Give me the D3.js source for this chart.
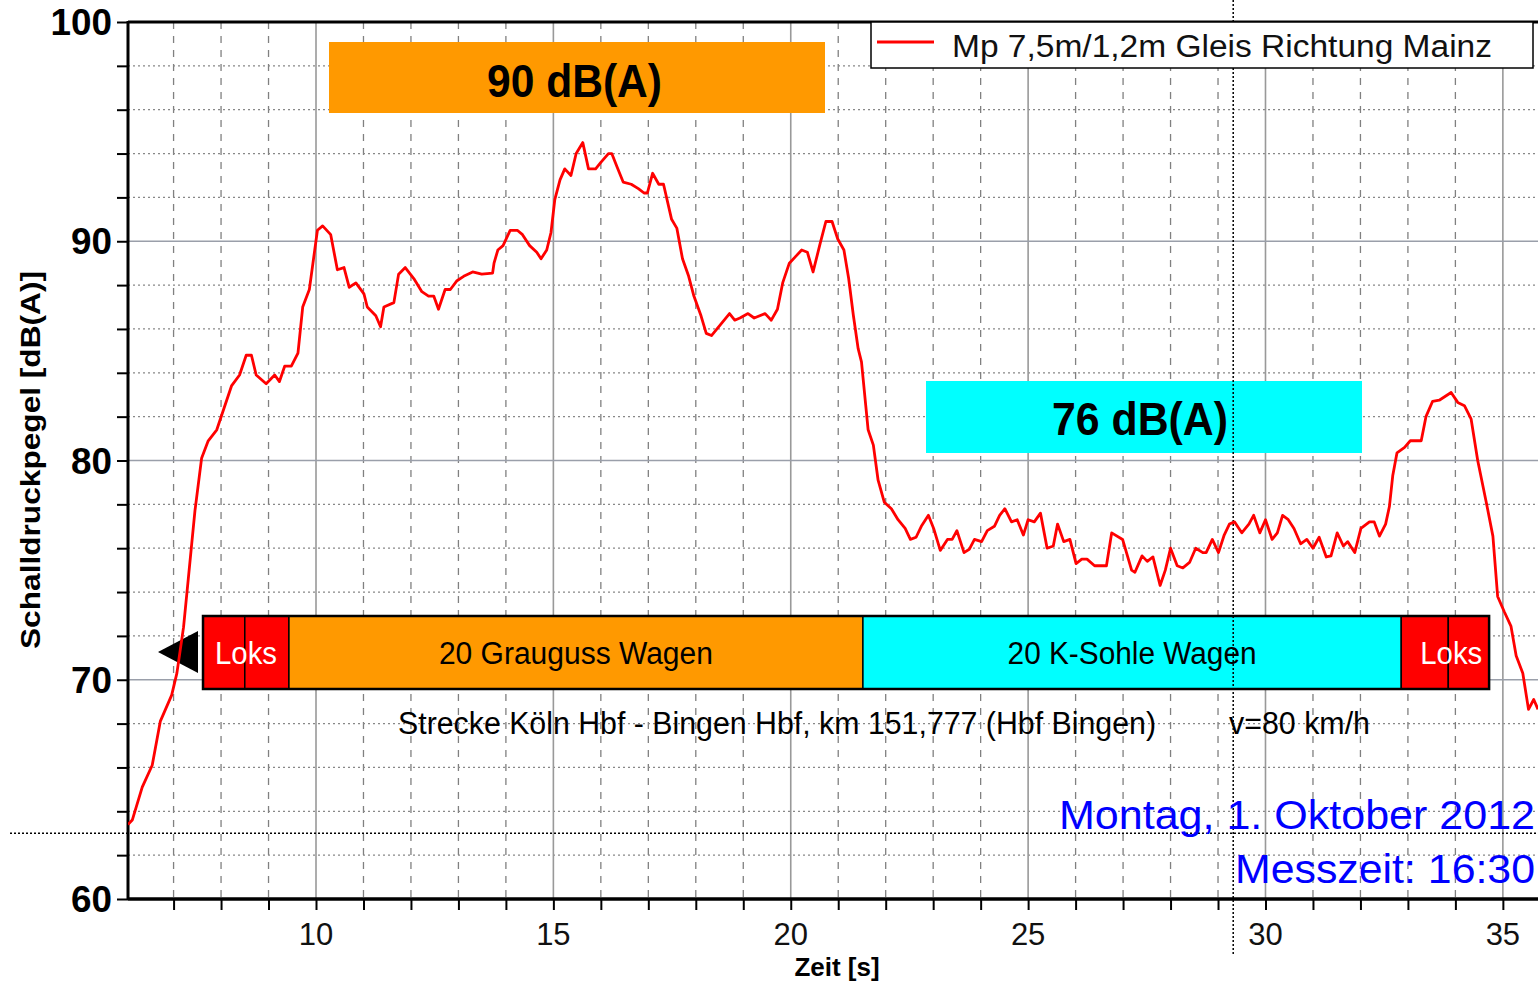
<!DOCTYPE html>
<html>
<head>
<meta charset="utf-8">
<script src="https://cdn.jsdelivr.net/npm/d3@7"></script>
<style>
  body { margin: 0; background: #fff; }
  svg { display: block; }
</style>
</head>
<body>
<div id="chart"></div>
<script>
// measured level, Mp 7,5m/1,2m
const timeS = [6.04,6.13,6.34,6.55,6.72,6.96,7.07,7.21,7.31,7.45,7.59,7.73,7.91,8.22,8.39,8.53,8.64,8.74,8.95,9.13,9.23,9.34,9.48,9.62,9.72,9.86,
  10.03,10.14,10.31,10.45,10.59,10.70,10.84,11.01,11.08,11.26,11.36,11.43,11.64,11.74,11.88,12.06,12.23,12.37,12.48,12.58,12.72,12.83,12.97,13.11,
  13.30,13.49,13.72,13.75,13.83,13.94,14.09,14.24,14.35,14.50,14.65,14.74,14.86,14.95,15.03,15.14,15.24,15.37,15.48,15.62,15.74,15.89,16.00,16.16,16.23,
  16.34,16.47,16.64,16.79,16.91,16.98,17.09,17.22,17.32,17.49,17.60,17.72,17.85,17.96,18.11,18.22,18.33,18.52,18.71,18.82,18.93,19.10,19.23,19.46,19.59,
  19.72,19.83,19.97,20.10,20.23,20.35,20.47,20.62,20.74,20.87,20.99,21.12,21.22,21.32,21.42,21.49,21.58,21.63,21.74,21.84,21.97,22.12,22.26,22.41,22.52,
  22.64,22.75,22.90,23.01,23.15,23.30,23.40,23.50,23.65,23.76,23.87,24.02,24.14,24.29,24.40,24.51,24.65,24.77,24.90,25.00,25.13,25.26,25.40,25.53,25.62,
  25.75,25.88,26.01,26.13,26.24,26.40,26.65,26.76,26.99,27.18,27.25,27.40,27.51,27.63,27.78,27.89,28.00,28.14,28.26,28.40,28.53,28.68,28.75,28.88,29.01,
  29.13,29.24,29.35,29.50,29.65,29.75,29.88,30.00,30.14,30.25,30.36,30.48,30.60,30.74,30.87,31.00,31.13,31.28,31.38,31.51,31.64,31.73,31.88,32.01,32.19,
  32.29,32.40,32.53,32.61,32.68,32.77,32.93,33.05,33.28,33.38,33.52,33.66,33.91,34.05,34.19,34.33,34.47,34.65,34.79,34.89,35.03,35.17,35.28,35.42,35.54,
  35.65,35.74];
const levelDb = [63.4,63.6,65.1,66.1,68.1,69.3,70.3,72.4,74.6,77.7,80.1,80.9,81.4,83.4,83.9,84.8,84.8,83.9,83.5,83.9,83.6,84.3,84.3,84.9,87.0,87.8,
  90.5,90.7,90.3,88.7,88.8,87.9,88.1,87.6,87.0,86.6,86.1,87.0,87.2,88.5,88.8,88.3,87.7,87.5,87.5,86.9,87.8,87.8,88.2,88.4,
  88.6,88.5,88.55,89.0,89.6,89.8,90.5,90.5,90.3,89.8,89.5,89.2,89.6,90.4,91.9,92.8,93.3,93.0,94.0,94.5,93.3,93.3,93.6,94.0,94.0,
  93.4,92.7,92.6,92.4,92.2,92.2,93.1,92.6,92.6,91.0,90.6,89.2,88.4,87.5,86.6,85.8,85.7,86.2,86.7,86.4,86.5,86.7,86.5,86.7,86.4,
  86.9,88.1,89.0,89.3,89.6,89.5,88.6,89.9,90.9,90.9,90.1,89.6,88.3,86.6,85.1,84.5,82.5,81.4,80.7,79.1,78.1,77.8,77.3,76.9,76.4,
  76.5,77.0,77.5,76.9,75.9,76.4,76.4,76.8,75.8,75.95,76.4,76.3,76.8,77.0,77.5,77.8,77.2,77.3,76.6,77.3,77.2,77.6,76.0,76.1,77.1,
  76.3,76.4,75.3,75.5,75.5,75.2,75.2,76.7,76.4,75.0,74.9,75.65,75.4,75.6,74.3,75.0,76.0,75.2,75.1,75.35,76.0,75.8,75.8,76.4,75.8,
  76.6,77.1,77.2,76.7,77.1,77.5,76.7,77.3,76.4,76.7,77.5,77.3,76.9,76.2,76.4,76.0,76.5,75.6,75.65,76.7,76.1,76.3,75.8,76.9,77.2,
  77.2,76.55,77.1,77.9,79.3,80.35,80.6,80.9,80.9,82.0,82.7,82.75,83.1,82.65,82.5,81.9,80.0,78.1,76.55,73.8,73.1,72.45,71.1,70.3,68.65,
  69.1,68.65];

// train composition along the time axis
const trainLabels = ["Loks", "", "20 Grauguss  Wagen", "20 K-Sohle Wagen", "", "Loks"];
const trainStart = [7.62, 8.50, 9.43, 21.52, 32.86, 33.85];
const trainEnd = [8.50, 9.43, 21.52, 32.86, 33.85, 34.71];
const trainKind = ["lok", "lok", "grau", "ksohle", "lok", "lok"];

const xTicksMajor = [10, 15, 20, 25, 30, 35];
const yTicksMajor = [60, 70, 80, 90, 100];

const width = 1538;
const height = 983;
const padL = 128, padT = 22, padR = 1538, padB = 899;

const colors = { lok: "#ff0000", grau: "#ff9900", ksohle: "#00ffff" };
const narrow = "'Liberation Sans Narrow', 'Arial Narrow', 'Liberation Sans', sans-serif";

const x = d3.scaleLinear().domain([6.04, 35.74]).range([padL, padR]);
const y = d3.scaleLinear().domain([60, 100]).range([padB, padT]);

const svg = d3.select("#chart")
  .append("svg")
  .attr("width", width)
  .attr("height", height)
  .style("font-family", "'Liberation Sans', Arial, sans-serif");

svg.append("rect").attr("width", width).attr("height", height).attr("fill", "#fff");

svg.append("clipPath").attr("id", "plot")
  .append("rect").attr("x", padL).attr("y", padT).attr("width", padR - padL).attr("height", padB - padT);

const grid = svg.append("g");

// minor verticals, every second
const xMinor = d3.range(7, 36).filter(d => d % 5 !== 0);
grid.selectAll(".vx").data(xMinor).join("line")
  .attr("x1", d => x(d)).attr("x2", d => x(d))
  .attr("y1", padT).attr("y2", padB)
  .attr("stroke", "#808080").attr("stroke-width", 1.3).attr("stroke-dasharray", "7,7");

// minor horizontals, every 2 dB
const yMinor = d3.range(62, 100, 2).filter(d => d % 10 !== 0);
grid.selectAll(".hy").data(yMinor).join("line")
  .attr("x1", padL).attr("x2", padR)
  .attr("y1", d => y(d)).attr("y2", d => y(d))
  .attr("stroke", "#888").attr("stroke-width", 1.3).attr("stroke-dasharray", "2,3");

grid.selectAll(".vX").data(xTicksMajor).join("line")
  .attr("x1", d => x(d)).attr("x2", d => x(d))
  .attr("y1", padT).attr("y2", padB)
  .attr("stroke", "#999").attr("stroke-width", 1.6);

grid.selectAll(".hY").data([70, 80, 90]).join("line")
  .attr("x1", padL).attr("x2", padR)
  .attr("y1", d => y(d)).attr("y2", d => y(d))
  .attr("stroke", "#9a9faa").attr("stroke-width", 1.6);

// axes
const xAxis = svg.append("g")
  .attr("transform", `translate(0,${padB})`)
  .call(d3.axisBottom(x).tickValues(d3.range(7, 36)).tickSize(11).tickFormat(""));
xAxis.select(".domain").remove();
xAxis.selectAll("line").attr("stroke", "#000").attr("stroke-width", 2);

svg.selectAll(".xl").data(xTicksMajor).join("text")
  .attr("x", d => x(d)).attr("y", 945)
  .attr("text-anchor", "middle")
  .attr("font-size", 31)
  .attr("font-family", narrow)
  .attr("fill", "#111")
  .text(d => d);

const yAxis = svg.append("g")
  .attr("transform", `translate(${padL},0)`)
  .call(d3.axisLeft(y).tickValues(d3.range(60, 101, 2)).tickSize(11).tickFormat(""));
yAxis.select(".domain").remove();
yAxis.selectAll("line").attr("stroke", "#000").attr("stroke-width", 2);

svg.selectAll(".yl").data(yTicksMajor).join("text")
  .attr("x", 112).attr("y", d => y(d) + 13)
  .attr("text-anchor", "end")
  .attr("font-size", 36).attr("font-weight", "bold")
  .attr("textLength", d => String(d).length * 20.5)
  .attr("lengthAdjust", "spacingAndGlyphs")
  .text(d => d);

svg.append("line").attr("x1", padL).attr("x2", padL).attr("y1", padT - 1).attr("y2", padB + 1)
  .attr("stroke", "#000").attr("stroke-width", 3);
svg.append("line").attr("x1", padL).attr("x2", padR).attr("y1", padB).attr("y2", padB)
  .attr("stroke", "#000").attr("stroke-width", 3.5);
svg.append("line").attr("x1", padL).attr("x2", padR).attr("y1", padT).attr("y2", padT)
  .attr("stroke", "#000").attr("stroke-width", 3);

// axis titles
svg.append("text")
  .attr("transform", "translate(40,460) rotate(-90)")
  .attr("text-anchor", "middle")
  .attr("font-size", 27).attr("font-weight", "bold")
  .attr("textLength", 378).attr("lengthAdjust", "spacingAndGlyphs")
  .text("Schalldruckpegel [dB(A)]");

svg.append("text")
  .attr("x", 837).attr("y", 976)
  .attr("text-anchor", "middle")
  .attr("font-size", 26).attr("font-weight", "bold")
  .text("Zeit [s]");

// level boxes
svg.append("rect").attr("x", 329).attr("y", 42).attr("width", 496).attr("height", 71).attr("fill", "#ff9900");
svg.append("text").attr("x", 487).attr("y", 97)
  .attr("font-size", 46).attr("font-weight", "bold")
  .attr("textLength", 175).attr("lengthAdjust", "spacingAndGlyphs")
  .text("90 dB(A)");

svg.append("rect").attr("x", 926).attr("y", 381).attr("width", 436).attr("height", 72).attr("fill", "#00ffff");
svg.append("text").attr("x", 1052).attr("y", 435)
  .attr("font-size", 46).attr("font-weight", "bold")
  .attr("textLength", 176).attr("lengthAdjust", "spacingAndGlyphs")
  .text("76 dB(A)");

// train bar
const bar = svg.append("g");
const barTop = 616, barH = 73;
bar.selectAll("rect").data(trainStart).join("rect")
  .attr("x", d => x(d))
  .attr("y", barTop)
  .attr("width", (d, i) => x(trainEnd[i]) - x(d))
  .attr("height", barH)
  .attr("fill", (d, i) => colors[trainKind[i]])
  .attr("stroke", "#000").attr("stroke-width", 1.5);
bar.append("rect")
  .attr("x", x(trainStart[0])).attr("y", barTop)
  .attr("width", x(trainEnd[trainEnd.length - 1]) - x(trainStart[0])).attr("height", barH)
  .attr("fill", "none").attr("stroke", "#000").attr("stroke-width", 2.5);

const labelWidths = [62, 0, 274, 249, 0, 62];
bar.selectAll("text").data(trainLabels).join("text")
  .attr("x", (d, i) => {
    if (i === 0) return x(trainStart[0]) + 12;
    if (i === 5) return x(trainStart[4]) + 19;
    return (x(trainStart[i]) + x(trainEnd[i])) / 2 - labelWidths[i] / 2;
  })
  .attr("y", 664)
  .attr("font-size", 31)
  .attr("font-family", narrow)
  .attr("fill", (d, i) => trainKind[i] === "lok" ? "#fff" : "#000")
  .attr("textLength", (d, i) => labelWidths[i] || null)
  .attr("lengthAdjust", "spacingAndGlyphs")
  .text(d => d);

// arrow: direction of travel
svg.append("path")
  .attr("d", "M158,652 L198,631 L198,673 Z")
  .attr("fill", "#000");

svg.append("text").attr("x", 398).attr("y", 734)
  .attr("font-size", 31)
  .attr("font-family", narrow)
  .attr("textLength", 758).attr("lengthAdjust", "spacingAndGlyphs")
  .text("Strecke Köln Hbf - Bingen Hbf, km 151,777 (Hbf Bingen)");
svg.append("text").attr("x", 1229).attr("y", 734)
  .attr("font-size", 31)
  .attr("font-family", narrow)
  .attr("textLength", 141).attr("lengthAdjust", "spacingAndGlyphs")
  .text("v=80 km/h");

// cursor crosshair
svg.append("line").attr("x1", 10).attr("x2", padR).attr("y1", y(63)).attr("y2", y(63))
  .attr("stroke", "#000").attr("stroke-width", 1.5).attr("stroke-dasharray", "2,2");
svg.append("line").attr("x1", x(29.32)).attr("x2", x(29.32)).attr("y1", 0).attr("y2", 955)
  .attr("stroke", "#000").attr("stroke-width", 1.5).attr("stroke-dasharray", "2,2");

// measured curve
const line = d3.line().x((d, i) => x(timeS[i])).y(d => y(d));
svg.append("path")
  .datum(levelDb)
  .attr("clip-path", "url(#plot)")
  .attr("d", line)
  .attr("fill", "none")
  .attr("stroke", "#ff0000")
  .attr("stroke-width", 2.8)
  .attr("stroke-linejoin", "round");

// date stamp
svg.append("text").attr("x", 1535).attr("y", 829)
  .attr("text-anchor", "end").attr("font-size", 41).attr("fill", "#0000ff")
  .attr("textLength", 476).attr("lengthAdjust", "spacingAndGlyphs")
  .text("Montag, 1. Oktober 2012");
svg.append("text").attr("x", 1535).attr("y", 883)
  .attr("text-anchor", "end").attr("font-size", 41).attr("fill", "#0000ff")
  .attr("textLength", 300).attr("lengthAdjust", "spacingAndGlyphs")
  .text("Messzeit: 16:30");

// legend
const legend = svg.append("g");
legend.append("rect").attr("x", 871).attr("y", 22).attr("width", 662).attr("height", 46)
  .attr("fill", "#fff").attr("stroke", "#000").attr("stroke-width", 1.5);
legend.append("line").attr("x1", 877).attr("x2", 934).attr("y1", 42).attr("y2", 42)
  .attr("stroke", "#ff0000").attr("stroke-width", 3);
legend.append("text").attr("x", 952).attr("y", 57)
  .attr("font-size", 31).attr("fill", "#111")
  .attr("textLength", 540).attr("lengthAdjust", "spacingAndGlyphs")
  .text("Mp 7,5m/1,2m Gleis Richtung Mainz");
</script>
</body>
</html>
